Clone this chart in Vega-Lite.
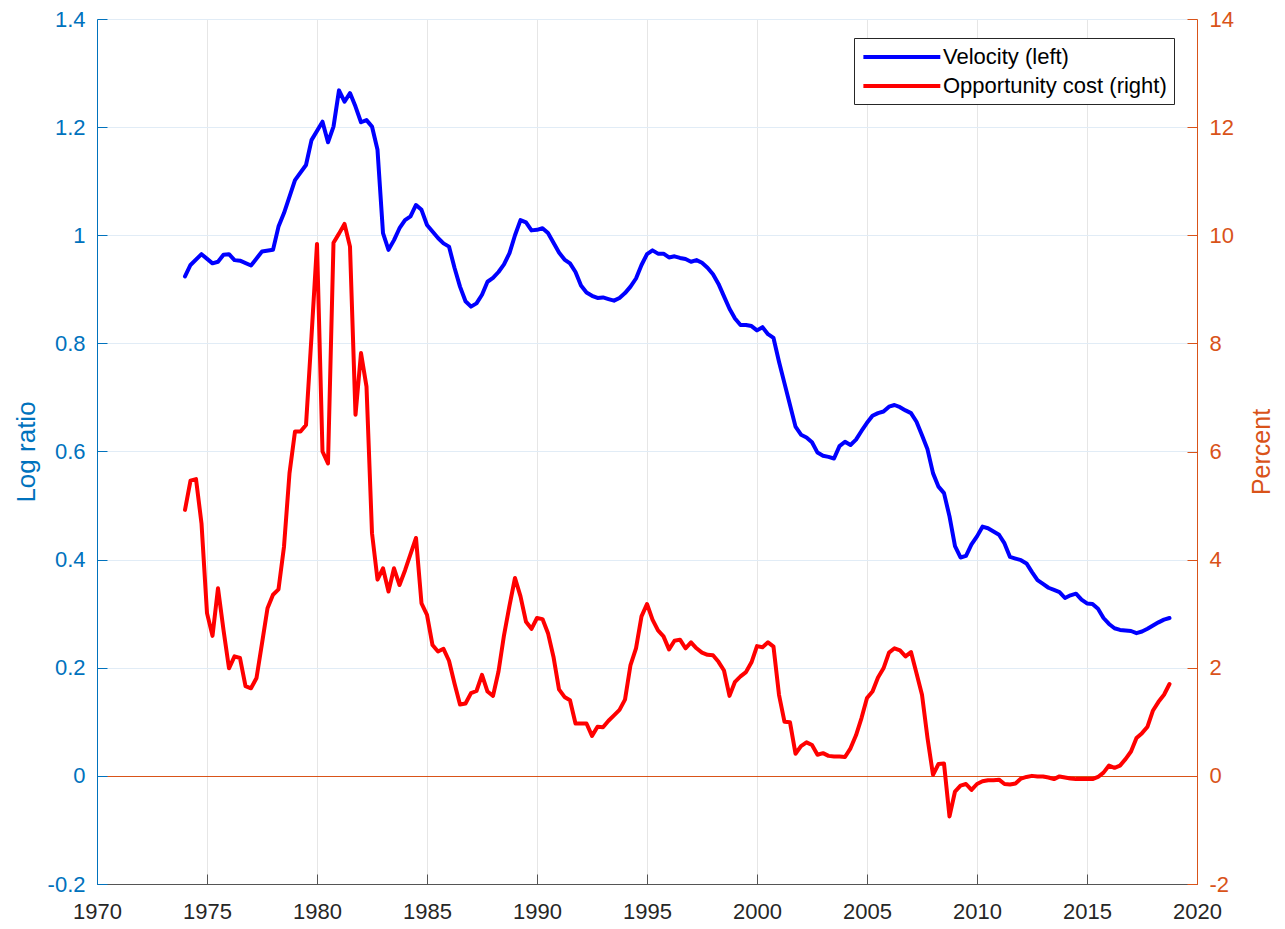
{
  "$schema": "https://vega.github.io/schema/vega-lite/v6.json",
  "autosize": "none",
  "width": 1100,
  "height": 865,
  "padding": {"left": 97, "top": 19, "right": 88, "bottom": 45},
  "background": "white",
  "config": {
    "font": "Liberation Sans",
    "view": {"stroke": null},
    "axis": {"labelFont": "Liberation Sans", "titleFont": "Liberation Sans", "titleFontWeight": "normal", "domainWidth": 1, "tickWidth": 1}
  },
  "datasets": {
    "velocity": [
      {"year": 1974.0, "value": 0.924, "series": "Velocity (left)"},
      {"year": 1974.25, "value": 0.945, "series": "Velocity (left)"},
      {"year": 1974.75, "value": 0.965, "series": "Velocity (left)"},
      {"year": 1975.25, "value": 0.948, "series": "Velocity (left)"},
      {"year": 1975.5, "value": 0.951, "series": "Velocity (left)"},
      {"year": 1975.75, "value": 0.964, "series": "Velocity (left)"},
      {"year": 1976.0, "value": 0.965, "series": "Velocity (left)"},
      {"year": 1976.25, "value": 0.954, "series": "Velocity (left)"},
      {"year": 1976.5, "value": 0.953, "series": "Velocity (left)"},
      {"year": 1977.0, "value": 0.944, "series": "Velocity (left)"},
      {"year": 1977.5, "value": 0.970, "series": "Velocity (left)"},
      {"year": 1978.0, "value": 0.973, "series": "Velocity (left)"},
      {"year": 1978.25, "value": 1.016, "series": "Velocity (left)"},
      {"year": 1978.5, "value": 1.041, "series": "Velocity (left)"},
      {"year": 1979.0, "value": 1.102, "series": "Velocity (left)"},
      {"year": 1979.5, "value": 1.130, "series": "Velocity (left)"},
      {"year": 1979.75, "value": 1.176, "series": "Velocity (left)"},
      {"year": 1980.25, "value": 1.210, "series": "Velocity (left)"},
      {"year": 1980.5, "value": 1.172, "series": "Velocity (left)"},
      {"year": 1980.75, "value": 1.201, "series": "Velocity (left)"},
      {"year": 1981.0, "value": 1.268, "series": "Velocity (left)"},
      {"year": 1981.25, "value": 1.247, "series": "Velocity (left)"},
      {"year": 1981.5, "value": 1.263, "series": "Velocity (left)"},
      {"year": 1981.75, "value": 1.238, "series": "Velocity (left)"},
      {"year": 1982.0, "value": 1.209, "series": "Velocity (left)"},
      {"year": 1982.25, "value": 1.213, "series": "Velocity (left)"},
      {"year": 1982.5, "value": 1.201, "series": "Velocity (left)"},
      {"year": 1982.75, "value": 1.158, "series": "Velocity (left)"},
      {"year": 1983.0, "value": 1.004, "series": "Velocity (left)"},
      {"year": 1983.25, "value": 0.973, "series": "Velocity (left)"},
      {"year": 1983.5, "value": 0.991, "series": "Velocity (left)"},
      {"year": 1983.75, "value": 1.013, "series": "Velocity (left)"},
      {"year": 1984.0, "value": 1.028, "series": "Velocity (left)"},
      {"year": 1984.25, "value": 1.035, "series": "Velocity (left)"},
      {"year": 1984.5, "value": 1.056, "series": "Velocity (left)"},
      {"year": 1984.75, "value": 1.047, "series": "Velocity (left)"},
      {"year": 1985.0, "value": 1.019, "series": "Velocity (left)"},
      {"year": 1985.5, "value": 0.995, "series": "Velocity (left)"},
      {"year": 1985.75, "value": 0.985, "series": "Velocity (left)"},
      {"year": 1986.0, "value": 0.979, "series": "Velocity (left)"},
      {"year": 1986.25, "value": 0.940, "series": "Velocity (left)"},
      {"year": 1986.5, "value": 0.905, "series": "Velocity (left)"},
      {"year": 1986.75, "value": 0.878, "series": "Velocity (left)"},
      {"year": 1987.0, "value": 0.868, "series": "Velocity (left)"},
      {"year": 1987.25, "value": 0.874, "series": "Velocity (left)"},
      {"year": 1987.5, "value": 0.890, "series": "Velocity (left)"},
      {"year": 1987.75, "value": 0.914, "series": "Velocity (left)"},
      {"year": 1988.0, "value": 0.921, "series": "Velocity (left)"},
      {"year": 1988.25, "value": 0.932, "series": "Velocity (left)"},
      {"year": 1988.5, "value": 0.946, "series": "Velocity (left)"},
      {"year": 1988.75, "value": 0.967, "series": "Velocity (left)"},
      {"year": 1989.0, "value": 1.000, "series": "Velocity (left)"},
      {"year": 1989.25, "value": 1.028, "series": "Velocity (left)"},
      {"year": 1989.5, "value": 1.024, "series": "Velocity (left)"},
      {"year": 1989.75, "value": 1.009, "series": "Velocity (left)"},
      {"year": 1990.0, "value": 1.010, "series": "Velocity (left)"},
      {"year": 1990.25, "value": 1.013, "series": "Velocity (left)"},
      {"year": 1990.5, "value": 1.004, "series": "Velocity (left)"},
      {"year": 1990.75, "value": 0.986, "series": "Velocity (left)"},
      {"year": 1991.0, "value": 0.968, "series": "Velocity (left)"},
      {"year": 1991.25, "value": 0.955, "series": "Velocity (left)"},
      {"year": 1991.5, "value": 0.948, "series": "Velocity (left)"},
      {"year": 1991.75, "value": 0.932, "series": "Velocity (left)"},
      {"year": 1992.0, "value": 0.907, "series": "Velocity (left)"},
      {"year": 1992.25, "value": 0.894, "series": "Velocity (left)"},
      {"year": 1992.5, "value": 0.888, "series": "Velocity (left)"},
      {"year": 1992.75, "value": 0.884, "series": "Velocity (left)"},
      {"year": 1993.0, "value": 0.885, "series": "Velocity (left)"},
      {"year": 1993.25, "value": 0.882, "series": "Velocity (left)"},
      {"year": 1993.5, "value": 0.879, "series": "Velocity (left)"},
      {"year": 1993.75, "value": 0.884, "series": "Velocity (left)"},
      {"year": 1994.0, "value": 0.893, "series": "Velocity (left)"},
      {"year": 1994.25, "value": 0.905, "series": "Velocity (left)"},
      {"year": 1994.5, "value": 0.920, "series": "Velocity (left)"},
      {"year": 1994.75, "value": 0.945, "series": "Velocity (left)"},
      {"year": 1995.0, "value": 0.965, "series": "Velocity (left)"},
      {"year": 1995.25, "value": 0.972, "series": "Velocity (left)"},
      {"year": 1995.5, "value": 0.966, "series": "Velocity (left)"},
      {"year": 1995.75, "value": 0.966, "series": "Velocity (left)"},
      {"year": 1996.0, "value": 0.959, "series": "Velocity (left)"},
      {"year": 1996.25, "value": 0.961, "series": "Velocity (left)"},
      {"year": 1996.5, "value": 0.958, "series": "Velocity (left)"},
      {"year": 1996.75, "value": 0.956, "series": "Velocity (left)"},
      {"year": 1997.0, "value": 0.951, "series": "Velocity (left)"},
      {"year": 1997.25, "value": 0.954, "series": "Velocity (left)"},
      {"year": 1997.5, "value": 0.949, "series": "Velocity (left)"},
      {"year": 1997.75, "value": 0.940, "series": "Velocity (left)"},
      {"year": 1998.0, "value": 0.928, "series": "Velocity (left)"},
      {"year": 1998.25, "value": 0.910, "series": "Velocity (left)"},
      {"year": 1998.5, "value": 0.887, "series": "Velocity (left)"},
      {"year": 1998.75, "value": 0.864, "series": "Velocity (left)"},
      {"year": 1999.0, "value": 0.846, "series": "Velocity (left)"},
      {"year": 1999.25, "value": 0.834, "series": "Velocity (left)"},
      {"year": 1999.5, "value": 0.834, "series": "Velocity (left)"},
      {"year": 1999.75, "value": 0.832, "series": "Velocity (left)"},
      {"year": 2000.0, "value": 0.824, "series": "Velocity (left)"},
      {"year": 2000.25, "value": 0.830, "series": "Velocity (left)"},
      {"year": 2000.5, "value": 0.817, "series": "Velocity (left)"},
      {"year": 2000.75, "value": 0.810, "series": "Velocity (left)"},
      {"year": 2001.0, "value": 0.766, "series": "Velocity (left)"},
      {"year": 2001.25, "value": 0.726, "series": "Velocity (left)"},
      {"year": 2001.5, "value": 0.686, "series": "Velocity (left)"},
      {"year": 2001.75, "value": 0.646, "series": "Velocity (left)"},
      {"year": 2002.0, "value": 0.631, "series": "Velocity (left)"},
      {"year": 2002.25, "value": 0.626, "series": "Velocity (left)"},
      {"year": 2002.5, "value": 0.617, "series": "Velocity (left)"},
      {"year": 2002.75, "value": 0.598, "series": "Velocity (left)"},
      {"year": 2003.0, "value": 0.592, "series": "Velocity (left)"},
      {"year": 2003.25, "value": 0.590, "series": "Velocity (left)"},
      {"year": 2003.5, "value": 0.587, "series": "Velocity (left)"},
      {"year": 2003.75, "value": 0.610, "series": "Velocity (left)"},
      {"year": 2004.0, "value": 0.618, "series": "Velocity (left)"},
      {"year": 2004.25, "value": 0.612, "series": "Velocity (left)"},
      {"year": 2004.5, "value": 0.622, "series": "Velocity (left)"},
      {"year": 2004.75, "value": 0.638, "series": "Velocity (left)"},
      {"year": 2005.0, "value": 0.653, "series": "Velocity (left)"},
      {"year": 2005.25, "value": 0.666, "series": "Velocity (left)"},
      {"year": 2005.5, "value": 0.671, "series": "Velocity (left)"},
      {"year": 2005.75, "value": 0.674, "series": "Velocity (left)"},
      {"year": 2006.0, "value": 0.683, "series": "Velocity (left)"},
      {"year": 2006.25, "value": 0.686, "series": "Velocity (left)"},
      {"year": 2006.5, "value": 0.682, "series": "Velocity (left)"},
      {"year": 2006.75, "value": 0.676, "series": "Velocity (left)"},
      {"year": 2007.0, "value": 0.671, "series": "Velocity (left)"},
      {"year": 2007.25, "value": 0.655, "series": "Velocity (left)"},
      {"year": 2007.5, "value": 0.630, "series": "Velocity (left)"},
      {"year": 2007.75, "value": 0.604, "series": "Velocity (left)"},
      {"year": 2008.0, "value": 0.560, "series": "Velocity (left)"},
      {"year": 2008.25, "value": 0.535, "series": "Velocity (left)"},
      {"year": 2008.5, "value": 0.523, "series": "Velocity (left)"},
      {"year": 2008.75, "value": 0.480, "series": "Velocity (left)"},
      {"year": 2009.0, "value": 0.425, "series": "Velocity (left)"},
      {"year": 2009.25, "value": 0.404, "series": "Velocity (left)"},
      {"year": 2009.5, "value": 0.407, "series": "Velocity (left)"},
      {"year": 2009.75, "value": 0.428, "series": "Velocity (left)"},
      {"year": 2010.0, "value": 0.443, "series": "Velocity (left)"},
      {"year": 2010.25, "value": 0.461, "series": "Velocity (left)"},
      {"year": 2010.5, "value": 0.458, "series": "Velocity (left)"},
      {"year": 2010.75, "value": 0.452, "series": "Velocity (left)"},
      {"year": 2011.0, "value": 0.446, "series": "Velocity (left)"},
      {"year": 2011.25, "value": 0.430, "series": "Velocity (left)"},
      {"year": 2011.5, "value": 0.405, "series": "Velocity (left)"},
      {"year": 2011.75, "value": 0.402, "series": "Velocity (left)"},
      {"year": 2012.0, "value": 0.399, "series": "Velocity (left)"},
      {"year": 2012.25, "value": 0.393, "series": "Velocity (left)"},
      {"year": 2012.5, "value": 0.377, "series": "Velocity (left)"},
      {"year": 2012.75, "value": 0.362, "series": "Velocity (left)"},
      {"year": 2013.0, "value": 0.355, "series": "Velocity (left)"},
      {"year": 2013.25, "value": 0.348, "series": "Velocity (left)"},
      {"year": 2013.5, "value": 0.344, "series": "Velocity (left)"},
      {"year": 2013.75, "value": 0.340, "series": "Velocity (left)"},
      {"year": 2014.0, "value": 0.329, "series": "Velocity (left)"},
      {"year": 2014.25, "value": 0.334, "series": "Velocity (left)"},
      {"year": 2014.5, "value": 0.337, "series": "Velocity (left)"},
      {"year": 2014.75, "value": 0.326, "series": "Velocity (left)"},
      {"year": 2015.0, "value": 0.319, "series": "Velocity (left)"},
      {"year": 2015.25, "value": 0.318, "series": "Velocity (left)"},
      {"year": 2015.5, "value": 0.309, "series": "Velocity (left)"},
      {"year": 2015.75, "value": 0.292, "series": "Velocity (left)"},
      {"year": 2016.0, "value": 0.281, "series": "Velocity (left)"},
      {"year": 2016.25, "value": 0.273, "series": "Velocity (left)"},
      {"year": 2016.5, "value": 0.270, "series": "Velocity (left)"},
      {"year": 2016.75, "value": 0.269, "series": "Velocity (left)"},
      {"year": 2017.0, "value": 0.268, "series": "Velocity (left)"},
      {"year": 2017.25, "value": 0.264, "series": "Velocity (left)"},
      {"year": 2017.5, "value": 0.267, "series": "Velocity (left)"},
      {"year": 2017.75, "value": 0.272, "series": "Velocity (left)"},
      {"year": 2018.0, "value": 0.278, "series": "Velocity (left)"},
      {"year": 2018.25, "value": 0.284, "series": "Velocity (left)"},
      {"year": 2018.5, "value": 0.289, "series": "Velocity (left)"},
      {"year": 2018.75, "value": 0.292, "series": "Velocity (left)"}
    ],
    "oppcost": [
      {"year": 1974.0, "value": 4.92, "series": "Opportunity cost (right)"},
      {"year": 1974.25, "value": 5.46, "series": "Opportunity cost (right)"},
      {"year": 1974.5, "value": 5.49, "series": "Opportunity cost (right)"},
      {"year": 1974.75, "value": 4.67, "series": "Opportunity cost (right)"},
      {"year": 1975.0, "value": 3.01, "series": "Opportunity cost (right)"},
      {"year": 1975.25, "value": 2.59, "series": "Opportunity cost (right)"},
      {"year": 1975.5, "value": 3.47, "series": "Opportunity cost (right)"},
      {"year": 1975.75, "value": 2.70, "series": "Opportunity cost (right)"},
      {"year": 1976.0, "value": 1.99, "series": "Opportunity cost (right)"},
      {"year": 1976.25, "value": 2.21, "series": "Opportunity cost (right)"},
      {"year": 1976.5, "value": 2.18, "series": "Opportunity cost (right)"},
      {"year": 1976.75, "value": 1.66, "series": "Opportunity cost (right)"},
      {"year": 1977.0, "value": 1.62, "series": "Opportunity cost (right)"},
      {"year": 1977.25, "value": 1.81, "series": "Opportunity cost (right)"},
      {"year": 1977.5, "value": 2.45, "series": "Opportunity cost (right)"},
      {"year": 1977.75, "value": 3.10, "series": "Opportunity cost (right)"},
      {"year": 1978.0, "value": 3.35, "series": "Opportunity cost (right)"},
      {"year": 1978.25, "value": 3.45, "series": "Opportunity cost (right)"},
      {"year": 1978.5, "value": 4.24, "series": "Opportunity cost (right)"},
      {"year": 1978.75, "value": 5.60, "series": "Opportunity cost (right)"},
      {"year": 1979.0, "value": 6.37, "series": "Opportunity cost (right)"},
      {"year": 1979.25, "value": 6.37, "series": "Opportunity cost (right)"},
      {"year": 1979.5, "value": 6.49, "series": "Opportunity cost (right)"},
      {"year": 1979.75, "value": 8.13, "series": "Opportunity cost (right)"},
      {"year": 1980.0, "value": 9.84, "series": "Opportunity cost (right)"},
      {"year": 1980.25, "value": 6.00, "series": "Opportunity cost (right)"},
      {"year": 1980.5, "value": 5.78, "series": "Opportunity cost (right)"},
      {"year": 1980.75, "value": 9.86, "series": "Opportunity cost (right)"},
      {"year": 1981.0, "value": 10.03, "series": "Opportunity cost (right)"},
      {"year": 1981.25, "value": 10.21, "series": "Opportunity cost (right)"},
      {"year": 1981.5, "value": 9.79, "series": "Opportunity cost (right)"},
      {"year": 1981.75, "value": 6.68, "series": "Opportunity cost (right)"},
      {"year": 1982.0, "value": 7.82, "series": "Opportunity cost (right)"},
      {"year": 1982.25, "value": 7.20, "series": "Opportunity cost (right)"},
      {"year": 1982.5, "value": 4.49, "series": "Opportunity cost (right)"},
      {"year": 1982.75, "value": 3.63, "series": "Opportunity cost (right)"},
      {"year": 1983.0, "value": 3.84, "series": "Opportunity cost (right)"},
      {"year": 1983.25, "value": 3.41, "series": "Opportunity cost (right)"},
      {"year": 1983.5, "value": 3.84, "series": "Opportunity cost (right)"},
      {"year": 1983.75, "value": 3.53, "series": "Opportunity cost (right)"},
      {"year": 1984.0, "value": 3.80, "series": "Opportunity cost (right)"},
      {"year": 1984.25, "value": 4.10, "series": "Opportunity cost (right)"},
      {"year": 1984.5, "value": 4.40, "series": "Opportunity cost (right)"},
      {"year": 1984.75, "value": 3.19, "series": "Opportunity cost (right)"},
      {"year": 1985.0, "value": 2.98, "series": "Opportunity cost (right)"},
      {"year": 1985.25, "value": 2.42, "series": "Opportunity cost (right)"},
      {"year": 1985.5, "value": 2.30, "series": "Opportunity cost (right)"},
      {"year": 1985.75, "value": 2.35, "series": "Opportunity cost (right)"},
      {"year": 1986.0, "value": 2.13, "series": "Opportunity cost (right)"},
      {"year": 1986.25, "value": 1.71, "series": "Opportunity cost (right)"},
      {"year": 1986.5, "value": 1.32, "series": "Opportunity cost (right)"},
      {"year": 1986.75, "value": 1.34, "series": "Opportunity cost (right)"},
      {"year": 1987.0, "value": 1.53, "series": "Opportunity cost (right)"},
      {"year": 1987.25, "value": 1.57, "series": "Opportunity cost (right)"},
      {"year": 1987.5, "value": 1.87, "series": "Opportunity cost (right)"},
      {"year": 1987.75, "value": 1.56, "series": "Opportunity cost (right)"},
      {"year": 1988.0, "value": 1.48, "series": "Opportunity cost (right)"},
      {"year": 1988.25, "value": 1.93, "series": "Opportunity cost (right)"},
      {"year": 1988.5, "value": 2.60, "series": "Opportunity cost (right)"},
      {"year": 1988.75, "value": 3.15, "series": "Opportunity cost (right)"},
      {"year": 1989.0, "value": 3.66, "series": "Opportunity cost (right)"},
      {"year": 1989.25, "value": 3.32, "series": "Opportunity cost (right)"},
      {"year": 1989.5, "value": 2.85, "series": "Opportunity cost (right)"},
      {"year": 1989.75, "value": 2.72, "series": "Opportunity cost (right)"},
      {"year": 1990.0, "value": 2.92, "series": "Opportunity cost (right)"},
      {"year": 1990.25, "value": 2.90, "series": "Opportunity cost (right)"},
      {"year": 1990.5, "value": 2.64, "series": "Opportunity cost (right)"},
      {"year": 1990.75, "value": 2.20, "series": "Opportunity cost (right)"},
      {"year": 1991.0, "value": 1.60, "series": "Opportunity cost (right)"},
      {"year": 1991.25, "value": 1.46, "series": "Opportunity cost (right)"},
      {"year": 1991.5, "value": 1.40, "series": "Opportunity cost (right)"},
      {"year": 1991.75, "value": 0.97, "series": "Opportunity cost (right)"},
      {"year": 1992.0, "value": 0.97, "series": "Opportunity cost (right)"},
      {"year": 1992.25, "value": 0.97, "series": "Opportunity cost (right)"},
      {"year": 1992.5, "value": 0.74, "series": "Opportunity cost (right)"},
      {"year": 1992.75, "value": 0.91, "series": "Opportunity cost (right)"},
      {"year": 1993.0, "value": 0.90, "series": "Opportunity cost (right)"},
      {"year": 1993.25, "value": 1.02, "series": "Opportunity cost (right)"},
      {"year": 1993.5, "value": 1.12, "series": "Opportunity cost (right)"},
      {"year": 1993.75, "value": 1.22, "series": "Opportunity cost (right)"},
      {"year": 1994.0, "value": 1.41, "series": "Opportunity cost (right)"},
      {"year": 1994.25, "value": 2.05, "series": "Opportunity cost (right)"},
      {"year": 1994.5, "value": 2.36, "series": "Opportunity cost (right)"},
      {"year": 1994.75, "value": 2.95, "series": "Opportunity cost (right)"},
      {"year": 1995.0, "value": 3.18, "series": "Opportunity cost (right)"},
      {"year": 1995.25, "value": 2.89, "series": "Opportunity cost (right)"},
      {"year": 1995.5, "value": 2.69, "series": "Opportunity cost (right)"},
      {"year": 1995.75, "value": 2.58, "series": "Opportunity cost (right)"},
      {"year": 1996.0, "value": 2.34, "series": "Opportunity cost (right)"},
      {"year": 1996.25, "value": 2.50, "series": "Opportunity cost (right)"},
      {"year": 1996.5, "value": 2.52, "series": "Opportunity cost (right)"},
      {"year": 1996.75, "value": 2.36, "series": "Opportunity cost (right)"},
      {"year": 1997.0, "value": 2.47, "series": "Opportunity cost (right)"},
      {"year": 1997.25, "value": 2.36, "series": "Opportunity cost (right)"},
      {"year": 1997.5, "value": 2.28, "series": "Opportunity cost (right)"},
      {"year": 1997.75, "value": 2.24, "series": "Opportunity cost (right)"},
      {"year": 1998.0, "value": 2.23, "series": "Opportunity cost (right)"},
      {"year": 1998.25, "value": 2.11, "series": "Opportunity cost (right)"},
      {"year": 1998.5, "value": 1.95, "series": "Opportunity cost (right)"},
      {"year": 1998.75, "value": 1.48, "series": "Opportunity cost (right)"},
      {"year": 1999.0, "value": 1.74, "series": "Opportunity cost (right)"},
      {"year": 1999.25, "value": 1.84, "series": "Opportunity cost (right)"},
      {"year": 1999.5, "value": 1.92, "series": "Opportunity cost (right)"},
      {"year": 1999.75, "value": 2.10, "series": "Opportunity cost (right)"},
      {"year": 2000.0, "value": 2.40, "series": "Opportunity cost (right)"},
      {"year": 2000.25, "value": 2.38, "series": "Opportunity cost (right)"},
      {"year": 2000.5, "value": 2.47, "series": "Opportunity cost (right)"},
      {"year": 2000.75, "value": 2.39, "series": "Opportunity cost (right)"},
      {"year": 2001.0, "value": 1.50, "series": "Opportunity cost (right)"},
      {"year": 2001.25, "value": 1.00, "series": "Opportunity cost (right)"},
      {"year": 2001.5, "value": 0.99, "series": "Opportunity cost (right)"},
      {"year": 2001.75, "value": 0.41, "series": "Opportunity cost (right)"},
      {"year": 2002.0, "value": 0.55, "series": "Opportunity cost (right)"},
      {"year": 2002.25, "value": 0.62, "series": "Opportunity cost (right)"},
      {"year": 2002.5, "value": 0.57, "series": "Opportunity cost (right)"},
      {"year": 2002.75, "value": 0.39, "series": "Opportunity cost (right)"},
      {"year": 2003.0, "value": 0.42, "series": "Opportunity cost (right)"},
      {"year": 2003.25, "value": 0.37, "series": "Opportunity cost (right)"},
      {"year": 2003.5, "value": 0.36, "series": "Opportunity cost (right)"},
      {"year": 2003.75, "value": 0.36, "series": "Opportunity cost (right)"},
      {"year": 2004.0, "value": 0.35, "series": "Opportunity cost (right)"},
      {"year": 2004.25, "value": 0.51, "series": "Opportunity cost (right)"},
      {"year": 2004.5, "value": 0.75, "series": "Opportunity cost (right)"},
      {"year": 2004.75, "value": 1.07, "series": "Opportunity cost (right)"},
      {"year": 2005.0, "value": 1.44, "series": "Opportunity cost (right)"},
      {"year": 2005.25, "value": 1.56, "series": "Opportunity cost (right)"},
      {"year": 2005.5, "value": 1.82, "series": "Opportunity cost (right)"},
      {"year": 2005.75, "value": 1.99, "series": "Opportunity cost (right)"},
      {"year": 2006.0, "value": 2.28, "series": "Opportunity cost (right)"},
      {"year": 2006.25, "value": 2.36, "series": "Opportunity cost (right)"},
      {"year": 2006.5, "value": 2.32, "series": "Opportunity cost (right)"},
      {"year": 2006.75, "value": 2.21, "series": "Opportunity cost (right)"},
      {"year": 2007.0, "value": 2.29, "series": "Opportunity cost (right)"},
      {"year": 2007.25, "value": 1.90, "series": "Opportunity cost (right)"},
      {"year": 2007.5, "value": 1.50, "series": "Opportunity cost (right)"},
      {"year": 2007.75, "value": 0.70, "series": "Opportunity cost (right)"},
      {"year": 2008.0, "value": 0.02, "series": "Opportunity cost (right)"},
      {"year": 2008.25, "value": 0.22, "series": "Opportunity cost (right)"},
      {"year": 2008.5, "value": 0.23, "series": "Opportunity cost (right)"},
      {"year": 2008.75, "value": -0.75, "series": "Opportunity cost (right)"},
      {"year": 2009.0, "value": -0.29, "series": "Opportunity cost (right)"},
      {"year": 2009.25, "value": -0.18, "series": "Opportunity cost (right)"},
      {"year": 2009.5, "value": -0.15, "series": "Opportunity cost (right)"},
      {"year": 2009.75, "value": -0.26, "series": "Opportunity cost (right)"},
      {"year": 2010.0, "value": -0.15, "series": "Opportunity cost (right)"},
      {"year": 2010.25, "value": -0.10, "series": "Opportunity cost (right)"},
      {"year": 2010.5, "value": -0.08, "series": "Opportunity cost (right)"},
      {"year": 2010.75, "value": -0.08, "series": "Opportunity cost (right)"},
      {"year": 2011.0, "value": -0.07, "series": "Opportunity cost (right)"},
      {"year": 2011.25, "value": -0.15, "series": "Opportunity cost (right)"},
      {"year": 2011.5, "value": -0.16, "series": "Opportunity cost (right)"},
      {"year": 2011.75, "value": -0.14, "series": "Opportunity cost (right)"},
      {"year": 2012.0, "value": -0.05, "series": "Opportunity cost (right)"},
      {"year": 2012.25, "value": -0.02, "series": "Opportunity cost (right)"},
      {"year": 2012.5, "value": 0.00, "series": "Opportunity cost (right)"},
      {"year": 2012.75, "value": -0.01, "series": "Opportunity cost (right)"},
      {"year": 2013.0, "value": -0.01, "series": "Opportunity cost (right)"},
      {"year": 2013.25, "value": -0.03, "series": "Opportunity cost (right)"},
      {"year": 2013.5, "value": -0.06, "series": "Opportunity cost (right)"},
      {"year": 2013.75, "value": -0.01, "series": "Opportunity cost (right)"},
      {"year": 2014.0, "value": -0.03, "series": "Opportunity cost (right)"},
      {"year": 2014.25, "value": -0.05, "series": "Opportunity cost (right)"},
      {"year": 2014.5, "value": -0.06, "series": "Opportunity cost (right)"},
      {"year": 2014.75, "value": -0.06, "series": "Opportunity cost (right)"},
      {"year": 2015.0, "value": -0.06, "series": "Opportunity cost (right)"},
      {"year": 2015.25, "value": -0.06, "series": "Opportunity cost (right)"},
      {"year": 2015.5, "value": -0.02, "series": "Opportunity cost (right)"},
      {"year": 2015.75, "value": 0.06, "series": "Opportunity cost (right)"},
      {"year": 2016.0, "value": 0.19, "series": "Opportunity cost (right)"},
      {"year": 2016.25, "value": 0.15, "series": "Opportunity cost (right)"},
      {"year": 2016.5, "value": 0.19, "series": "Opportunity cost (right)"},
      {"year": 2016.75, "value": 0.31, "series": "Opportunity cost (right)"},
      {"year": 2017.0, "value": 0.45, "series": "Opportunity cost (right)"},
      {"year": 2017.25, "value": 0.70, "series": "Opportunity cost (right)"},
      {"year": 2017.5, "value": 0.79, "series": "Opportunity cost (right)"},
      {"year": 2017.75, "value": 0.91, "series": "Opportunity cost (right)"},
      {"year": 2018.0, "value": 1.21, "series": "Opportunity cost (right)"},
      {"year": 2018.25, "value": 1.37, "series": "Opportunity cost (right)"},
      {"year": 2018.5, "value": 1.50, "series": "Opportunity cost (right)"},
      {"year": 2018.75, "value": 1.70, "series": "Opportunity cost (right)"}
    ]
  },
  "layer": [
    {
      "data": {"name": "velocity"},
      "mark": {"type": "line", "strokeWidth": 4, "strokeJoin": "round", "strokeCap": "round"},
      "encoding": {
        "x": {
          "field": "year", "type": "quantitative",
          "scale": {"domain": [1970, 2020], "nice": false, "zero": false},
          "axis": {
            "title": null,
            "values": [1970, 1975, 1980, 1985, 1990, 1995, 2000, 2005, 2010, 2015, 2020],
            "format": "d",
            "labelFontSize": 22,
            "labelColor": "#262626",
            "labelPadding": 27,
            "tickSize": -10,
            "tickColor": "#555555",
            "domainColor": "#555555",
            "gridColor": "#e6e6e6",
            "labelFlush": false
          }
        },
        "y": {
          "field": "value", "type": "quantitative",
          "scale": {"domain": [-0.2, 1.4], "nice": false, "zero": false},
          "axis": {
            "orient": "left",
            "title": "Log ratio",
            "titleFontSize": 26,
            "titleColor": "#0072BD",
            "titlePadding": 8,
            "values": [-0.2, 0, 0.2, 0.4, 0.6, 0.8, 1, 1.2, 1.4],
            "labelExpr": "replace(format(datum.value, '~g'), '\u2212', '-')",
            "labelFontSize": 22,
            "labelColor": "#0072BD",
            "labelPadding": 22,
            "tickSize": -10,
            "tickColor": "#0072BD",
            "domainColor": "#0072BD",
            "gridColor": {"condition": {"test": "datum.value === 0", "value": "#D95319"}, "value": "#e1ecf6"},
            "labelFlush": false
          }
        },
        "color": {
          "field": "series", "type": "nominal",
          "scale": {"domain": ["Velocity (left)", "Opportunity cost (right)"], "range": ["#0000FF", "#FF0000"]},
          "legend": {
            "title": null,
            "orient": "none",
            "legendX": 757,
            "legendY": 19,
            "symbolType": "M-1,0H7",
            "symbolSize": 370,
            "symbolStrokeWidth": 4,
            "labelFontSize": 22,
            "labelLimit": 0,
            "labelColor": "#000000",
            "labelOffset": 58,
            "strokeColor": "#262626",
            "fillColor": "white",
            "padding": 7,
            "rowPadding": 6
          }
        }
      }
    },
    {
      "data": {"name": "oppcost"},
      "mark": {"type": "line", "strokeWidth": 4, "strokeJoin": "round", "strokeCap": "round"},
      "encoding": {
        "x": {"field": "year", "type": "quantitative"},
        "y": {
          "field": "value", "type": "quantitative",
          "scale": {"domain": [-2, 14], "nice": false, "zero": false},
          "axis": {
            "orient": "right",
            "title": "Percent",
            "titleFontSize": 25,
            "titleColor": "#D95319",
            "titleAngle": 270,
            "titleBaseline": "top",
            "titlePadding": 16,
            "values": [-2, 0, 2, 4, 6, 8, 10, 12, 14],
            "labelExpr": "replace(format(datum.value, '~g'), '\u2212', '-')",
            "labelFontSize": 22,
            "labelColor": "#D95319",
            "labelPadding": 22,
            "tickSize": -10,
            "tickColor": "#D95319",
            "domainColor": "#D95319",
            "grid": false,
            "labelFlush": false
          }
        },
        "color": {"field": "series", "type": "nominal"}
      }
    }
  ],
  "resolve": {"scale": {"y": "independent"}}
}
